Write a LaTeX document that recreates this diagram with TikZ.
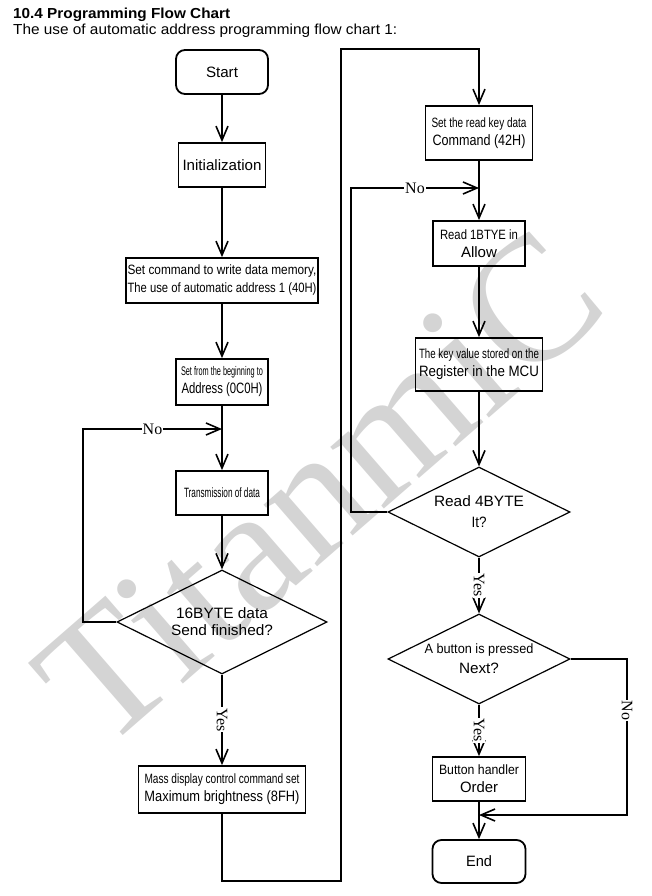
\documentclass[tikz,border=0pt]{standalone}
\usepackage{fontspec}
\setmainfont{Liberation Sans}
\newfontfamily\serifont{Liberation Serif}
\usetikzlibrary{arrows.meta,shapes.geometric}
\newcommand{\fw}[2]{\resizebox{#1pt}{\height}{#2}}
\newcommand{\cf}{\fontsize{13.5}{18}\selectfont}
\begin{document}
\begin{tikzpicture}[x=1pt,y=-1pt,
  box/.style={draw, line width=1.8pt, inner sep=0pt, align=center, font=\fontsize{15}{18}\selectfont},
  term/.style={box, rounded corners=9pt},
  dia/.style={draw, diamond, line width=1.2pt, inner sep=0pt},
  lbl/.style={align=center, inner sep=0pt, font=\fontsize{15}{19}\selectfont},
  ln/.style={line width=1.8pt},
  arr/.style={line width=1.8pt, -{Straight Barb[length=14pt,width=12pt,line width=1.6pt]}},
  yn/.style={font=\serifont\fontsize{16}{16}\selectfont, fill=white, inner sep=1pt}]
\useasboundingbox (0,0) rectangle (652,896);
% watermark
\node[text=black!17, rotate=41, font=\serifont\fontsize{178}{178}\selectfont] (wm) at (320,488) {TitanmiC};
% title
\node[anchor=base west, inner sep=0pt, font=\bfseries\fontsize{14.5}{16}\selectfont] (title) at (13,19) {\fw{217}{10.4 Programming Flow Chart}};
\node[anchor=base west, inner sep=0pt, font=\fontsize{14.5}{16}\selectfont] (sub) at (13,35) {\fw{384}{The use of automatic address programming flow chart 1:}};
% left column
\node[term, minimum width=92pt, minimum height=44pt] (start) at (222,72) {\fw{32}{Start}};
\node[box, minimum width=87pt, minimum height=44pt] (init) at (222,165) {\fw{79}{Initialization}};
\node[box, minimum width=192pt, minimum height=45pt] (b3) at (222,280.5) {{\cf\fw{189}{Set command to write data memory,}}\\{\cf\fw{189}{The use of automatic address 1 (40H)}}};
\node[box, minimum width=92pt, minimum height=46pt] (b4) at (222,382) {{\fontsize{12.5}{18}\selectfont\fw{82}{Set from the beginning to}}\\\fw{81}{Address (0C0H)}};
\node[box, minimum width=92pt, minimum height=44pt] (b5) at (222,493) {{\cf\fw{76}{Transmission of data}}};
\node[dia, minimum width=210pt, minimum height=104pt, label={[lbl,font=\fontsize{15}{17}\selectfont]center:{\fw{92}{16BYTE data}\\\fw{102}{Send finished?}}}] (d1) at (222,622) {};
\node[box, minimum width=167pt, minimum height=47pt] (b6) at (222,789.5) {{\cf\fw{155}{Mass display control command set}}\\\fw{155}{Maximum brightness (8FH)}};
% right column
\node[box, minimum width=107pt, minimum height=54pt] (b7) at (479,133) {{\cf\fw{95}{Set the read key data}}\\\fw{93}{Command (42H)}};
\node[box, minimum width=92pt, minimum height=45pt] (b8) at (479,243.5) {{\cf\fw{78}{Read 1BTYE in}}\\\fw{36}{Allow}};
\node[box, minimum width=127pt, minimum height=53pt] (b9) at (479,364.5) {{\cf\fw{120}{The key value stored on the}}\\\fw{120}{Register in the MCU}};
\node[dia, minimum width=182pt, minimum height=90pt, label={[lbl,font=\fontsize{15}{21}\selectfont]center:{\fw{90}{Read 4BYTE}\\\fw{15}{It?}}}] (d2) at (479,512) {};
\node[dia, minimum width=182pt, minimum height=90pt, label={[lbl,font=\fontsize{15}{20}\selectfont]center:{{\cf\fw{109}{A button is pressed}}\\\fw{40}{Next?}}}] (d3) at (479,659) {};
\node[box, minimum width=93pt, minimum height=44pt] (b10) at (479,779) {{\cf\fw{80}{Button handler}}\\\fw{38}{Order}};
\node[term, minimum width=93pt, minimum height=43pt] (end) at (479,861.5) {\fw{26}{End}};
% merge points
\coordinate (m1) at (222,429);
\coordinate (m2) at (479,188);
\coordinate (m3) at (479,815);
% connectors
\draw[arr] (start) -- (init);
\draw[arr] (init) -- (b3);
\draw[arr] (b3) -- (b4);
\draw[arr] (b4) -- (b5);
\draw[arr] (b5) -- (d1);
\draw[arr] (d1.west) -- (83,622) |- (m1) node[yn, pos=0.75] (no1) {No};
\draw[arr] (d1) -- (b6) node[yn, midway, rotate=-90] (yes1) {Yes};
\draw[arr] (b6) -- (222,881) -| (341,49) -| (b7);
\draw[arr] (b7) -- (b8);
\draw[arr] (b8) -- (b9);
\draw[arr] (b9) -- (d2);
\draw[arr] (d2.west) -- (351,512) |- (m2) node[yn, pos=0.75] (no2) {No};
\draw[arr] (d2) -- (d3) node[yn, midway, rotate=-90] (yes2) {Yes};
\draw[arr] (d3) -- (b10) node[yn, midway, rotate=-90] (yes3) {Yes};
\draw[arr] (d3.east) -- (627,659) |- (m3) node[yn, pos=0.165, rotate=-90] (no3) {No};
\draw[arr] (b10) -- (end);
\end{tikzpicture}
\end{document}
